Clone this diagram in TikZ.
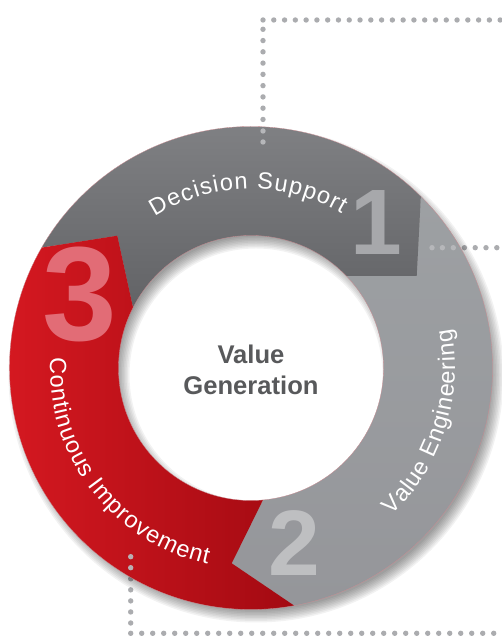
\documentclass[tikz,border=0pt]{standalone}
\usepackage{fontspec}
\setmainfont{Liberation Sans}
\usetikzlibrary{decorations.text}
\definecolor{dotgray}{HTML}{ABACAF}
\definecolor{dotlight}{HTML}{B6B7BA}
\definecolor{dotonred}{HTML}{B9AEB2}
\definecolor{edgepink}{HTML}{C98C92}
\definecolor{numone}{HTML}{A7A8AB}
\definecolor{numtwo}{HTML}{BEBFC1}
\definecolor{numthree}{HTML}{E26C76}
\definecolor{centertext}{HTML}{58595B}
\definecolor{greyAtop}{HTML}{9DA0A3}
\definecolor{greyAbot}{HTML}{95969A}
\definecolor{greyBtop}{HTML}{7F8083}
\definecolor{greyBbot}{HTML}{626366}
\definecolor{redL}{HTML}{DA1A22}
\definecolor{redR}{HTML}{A30A12}
\tikzset{
  dotline/.style={line width=5.4pt,line cap=round,dotgray},
  ringlabel/.style={decorate,decoration={text along path,text align=fit to path,text color=white}},
  bignum/.style={inner sep=0pt,font=\bfseries\fontsize{#1}{#1}\selectfont},
}
\newcommand{\ringsize}{\fontsize{23.5}{28}\selectfont}
\begin{document}
\begin{tikzpicture}[x=1pt,y=1pt]
\useasboundingbox (0,0) rectangle (501,636);
\coordinate (C) at (251,268);
\coordinate (Cs) at (256,261);
% key points
\coordinate (a) at ([shift={(150.1:241.5)}]C);
\coordinate (b) at ([shift={(45.3:241.5)}]C);
\coordinate (d) at ([shift={(-79.7:241.5)}]C);
\coordinate (p2) at (416.7,360);
\coordinate (q) at ([shift={(44:132.5)}]C);
\coordinate (r1) at (117.3,400.3);
\coordinate (r2) at ([shift={(152.9:132.5)}]C);
\coordinate (s1) at (231.7,72.7);
\coordinate (s2) at ([shift={(-84.8:132.5)}]C);
% dotted lines
\coordinate (t0) at (263,494);
\coordinate (t1) at (263,616);
\coordinate (t2) at (501,616);
\coordinate (m0) at (432,388.3);
\coordinate (m1) at (501,388.3);
\coordinate (l0) at (130.7,79.3);
\coordinate (l1) at (130.7,2.7);
\coordinate (l2) at (501,2.7);
\draw[dotline,dash pattern=on 0pt off 11.27pt] (t0) -- (t1);
\draw[dotline,dash pattern=on 0pt off 10.78pt] (t1) -- (t2);
\draw[dotline,dash pattern=on 0pt off 10.8pt] (m0) -- (m1);
\draw[dotline,dash pattern=on 0pt off 11.05pt] (l0) -- (l1);
\draw[dotline,dash pattern=on 0pt off 11pt] (l1) -- (l2);
% soft shadow
\foreach \s in {-6,-4.5,...,6}{
  \fill[black,opacity=.05,even odd rule] (Cs) circle[radius=241.5pt+\s pt] (Cs) circle[radius=132.5pt-\s pt];
}
% segments
\path[top color=greyAtop,bottom color=greyAbot] (b) arc[start angle=45.3,end angle=-79.7,radius=241.5pt] -- (s1) -- (s2) arc[start angle=-84.8,end angle=44,radius=132.5pt] -- (p2) -- cycle;
\path[top color=greyBtop,bottom color=greyBbot] (a) arc[start angle=150.1,end angle=45.3,radius=241.5pt] -- (p2) -- (q) arc[start angle=44,end angle=152.9,radius=132.5pt] -- (r1) -- cycle;
\path[left color=redL,right color=redR] (a) arc[start angle=150.1,end angle=280.3,radius=241.5pt] -- (s1) -- (s2) arc[start angle=275.2,end angle=152.9,radius=132.5pt] -- (r1) -- cycle;
% edges
\draw[edgepink,line width=.3pt] (C) circle[radius=241.5pt] (C) circle[radius=132.5pt];
% dots lying on the ring
\foreach \y in {494,505}{\fill[dotlight] (263,\y) circle[radius=2.7pt];}
\foreach \x in {432,442.4,453.3}{\fill[dotlight] (\x,388.3) circle[radius=2.7pt];}
\foreach \y in {79.3,68.3}{\fill[dotonred] (130.7,\y) circle[radius=2.7pt];}
% big numbers
\node[bignum=93,numone] (n1) at (376,413) {1};
\node[bignum=93,numtwo] (n2) at (294,92.5) {2};
\node[bignum=134,numthree] (n3) at (80,342) {3};
% ring labels
\path[ringlabel,decoration={text={|\ringsize|Decision Support}}] ([shift={(122.5:179)}]C) arc[start angle=122.5,end angle=59.5,radius=179pt];
\path[ringlabel,decoration={text={|\ringsize|Value Engineering}}] ([shift={(-46.4:204)}]C) arc[start angle=-46.4,end angle=11,radius=204pt];
\path[ringlabel,decoration={text={|\ringsize|Continuous Improvement}}] ([shift={(177:201)}]C) arc[start angle=177,end angle=257.5,radius=201pt];
% centre
\node[inner sep=0pt,align=center,text=centertext,font=\bfseries\fontsize{25.6}{31}\selectfont] (v) at (251,266) {Value\\Generation};
\end{tikzpicture}
\end{document}
